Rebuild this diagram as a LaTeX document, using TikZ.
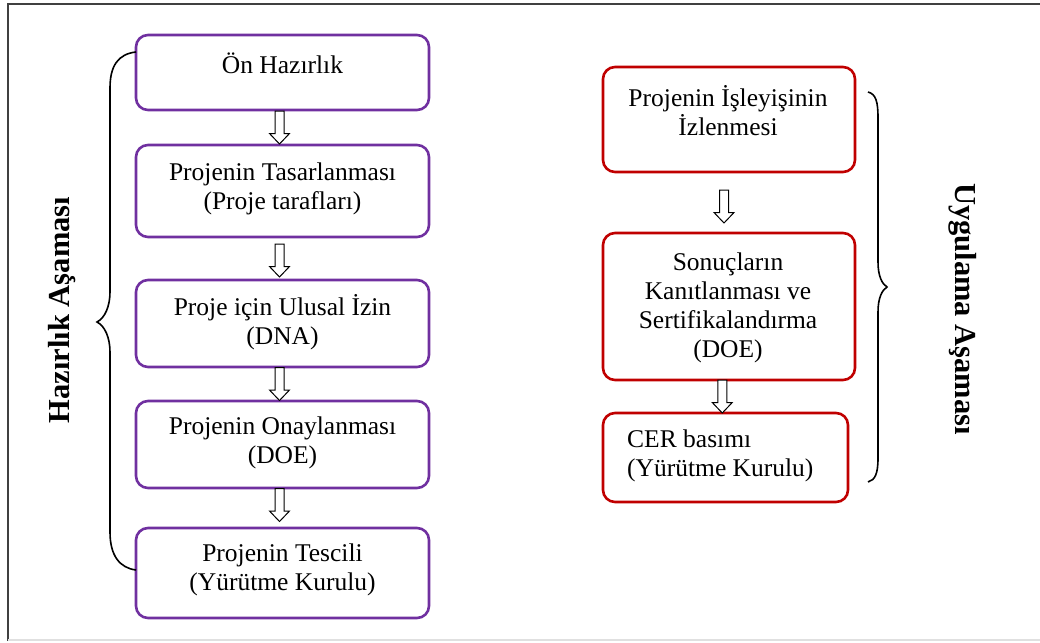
\documentclass[tikz,border=0pt]{standalone}
\usepackage{fontspec}
\setmainfont{Liberation Serif}
\usetikzlibrary{calc}
\definecolor{boxpurple}{RGB}{112,48,160}
\definecolor{boxred}{RGB}{192,0,0}
\begin{document}
\begin{tikzpicture}[x=1pt,y=-1pt,
  pbox/.style={draw=boxpurple, line width=2.6pt, rounded corners=12pt, minimum width=293pt, inner sep=0pt},
  rbox/.style={draw=boxred, line width=2.6pt, rounded corners=12pt, inner sep=0pt},
  txt/.style={font=\fontsize{25.5}{29}\selectfont, align=center, inner sep=0pt},
  lbl/.style={font=\fontsize{30.5}{34}\selectfont\bfseries, inner sep=0pt},
  bracestyle/.style={line width=1.6pt, black},
  hollowdown/.pic={\draw[line width=1pt, fill=white] (-4.5,-16.5) -- (4.5,-16.5) -- (4.5,6) -- (10,6) -- (0,16.5) -- (-10,6) -- (-4.5,6) -- cycle;}
]
\useasboundingbox (0,0) rectangle (1040,642);
% frame
\draw[line width=2pt, black!75] (8,641) -- (8,4) -- (1045,4);
\draw[line width=1.5pt, black!12] (8,640) -- (1045,640);

% left column boxes
\node[pbox, minimum height=75pt] (L1) at (282.5,72.5) {};
\node[txt] (L1t) at (282.5,63) {Ön Hazırlık};
\node[pbox, minimum height=92pt] (L2) at (282.5,191) {};
\node[txt] (L2t) at (282.5,188.5) {Projenin Tasarlanması\\(Proje tarafları)};
\node[pbox, minimum height=87pt] (L3) at (282.5,323.5) {};
\node[txt] (L3t) at (282.5,322.5) {Proje için Ulusal İzin\\(DNA)};
\node[pbox, minimum height=87pt] (L4) at (282.5,444.5) {};
\node[txt] (L4t) at (282.5,442.5) {Projenin Onaylanması\\(DOE)};
\node[pbox, minimum height=90pt] (L5) at (282.5,573) {};
\node[txt] (L5t) at (282.5,569.5) {Projenin Tescili\\(Yürütme Kurulu)};

% right column boxes
\node[rbox, minimum width=252pt, minimum height=105pt] (R1) at (729,119.5) {};
\node[txt] (R1t) at (728,110.5) {Projenin İşleyişinin\\İzlenmesi};
\node[rbox, minimum width=252pt, minimum height=147pt] (R2) at (729,306.5) {};
\node[txt] (R2t) at (728,308) {Sonuçların\\Kanıtlanması ve\\Sertifikalandırma\\(DOE)};
\node[rbox, minimum width=245pt, minimum height=89pt] (R3) at (725.5,457.5) {};
\node[txt, align=left, anchor=west] (R3t) at (627,456) {CER basımı\\(Yürütme Kurulu)};

% hollow arrows
\pic at ($(L1.south)!0.5!(L2.north)+(-3,0)$) {hollowdown};
\pic at ($(L2.south)!0.5!(L3.north)+(-3,2)$) {hollowdown};
\pic at ($(L3.south)!0.5!(L4.north)+(-3,0)$) {hollowdown};
\pic at ($(L4.south)!0.5!(L5.north)+(-3,-3)$) {hollowdown};
\pic at ($(R1.south)!0.5!(R2.north)+(-5,4)$) {hollowdown};
\pic at ($(R2.south)!0.5!(R3.north)+(-5,0)$) {hollowdown};

% braces
\draw[bracestyle] (136,52) .. controls (118,54) and (110,66) .. (110,88) -- (110,292)
  .. controls (110,306) and (105,318) .. (97,322)
  .. controls (105,326) and (110,338) .. (110,352) -- (110,532)
  .. controls (110,556) and (120,568) .. (136,570);
\draw[bracestyle] (868,92) .. controls (876,94) and (878,102) .. (878,118) -- (878,262)
  .. controls (878,276) and (882,284) .. (887,287)
  .. controls (882,290) and (878,298) .. (878,312) -- (878,458)
  .. controls (878,474) and (875,480) .. (868,482);

% stage labels
\node[lbl, rotate=90] (hz) at (62,310) {Hazırlık Aşaması};
\node[lbl, rotate=-90] (ug) at (963,309) {Uygulama Aşaması};
\end{tikzpicture}
\end{document}
